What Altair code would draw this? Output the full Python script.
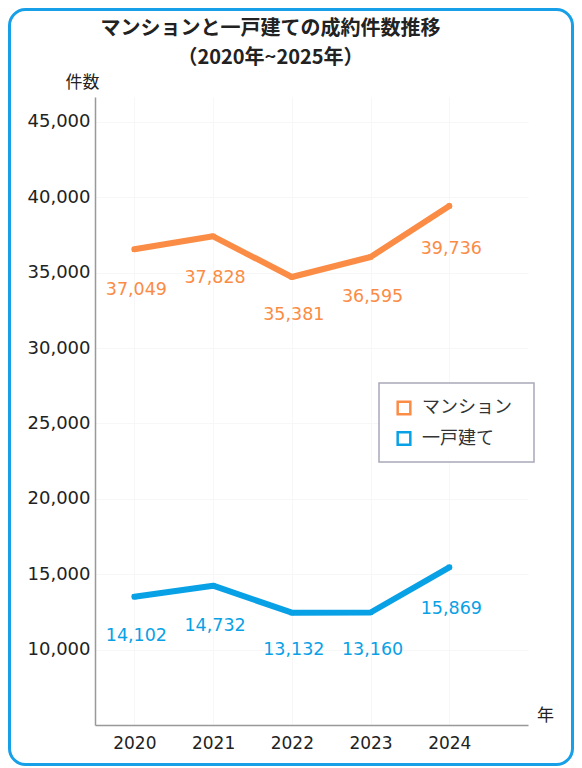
import altair as alt
import pandas as pd

years = [2020, 2021, 2022, 2023, 2024]
series_names = ["マンション", "一戸建て"]
mansion_plot = [36550, 37410, 34710, 36040, 39420]
house_plot = [13510, 14240, 12450, 12460, 15460]
mansion_label = [37049, 37828, 35381, 36595, 39736]
house_label = [14102, 14732, 13132, 13160, 15869]
colors = ["#fb8c45", "#09a1e6"]
y_ticks = [10000, 15000, 20000, 25000, 30000, 35000, 40000, 45000]
title_lines = ["マンションと一戸建ての成約件数推移", "（2020年~2025年）"]

FONT = "DejaVu Sans, Noto Sans CJK JP, sans-serif"
CJK = "Noto Sans CJK JP, sans-serif"

rows = []
for i, y in enumerate(years):
    rows.append({"year": y, "series": series_names[0], "value": mansion_plot[i], "label": mansion_label[i]})
    rows.append({"year": y, "series": series_names[1], "value": house_plot[i], "label": house_label[i]})
df = pd.DataFrame(rows)

W, H = 433, 628
PL, PT, PR, PB = 87, 89, 46, 41

xscale = alt.Scale(domain=[2019.5, 2025], nice=False, zero=False)
yscale = alt.Scale(domain=[5000, 46650], nice=False, zero=False)
cscale = alt.Scale(domain=series_names, range=colors)

base = alt.Chart(df)

x_enc = alt.X("year:Q", scale=xscale,
              axis=alt.Axis(values=years, format="d", title="年", titleAngle=0,
                            titleX=450, titleY=-10, titleAlign="center", titleBaseline="middle",
                            titleFontSize=17, titleFontWeight="normal", titleColor="#222222", titleFont=CJK,
                            labelFontSize=17, labelColor="#222222", labelPadding=10, labelFont=FONT,
                            ticks=False, domainColor="#999999", domainWidth=1.5,
                            grid=True, gridColor="#f7f7f7", gridWidth=1))
y_enc = alt.Y("value:Q", scale=yscale,
              axis=alt.Axis(values=y_ticks, format=",d", title="件数", titleAngle=0,
                            titleX=4, titleY=-15, titleAlign="right", titleBaseline="middle",
                            titleFontSize=17, titleFontWeight="normal", titleColor="#222222", titleFont=CJK,
                            labelFontSize=18, labelColor="#222222", labelPadding=5, labelFont=FONT,
                            ticks=False, domainColor="#999999", domainWidth=1.5,
                            grid=True, gridColor="#f7f7f7", gridWidth=1))

legend_box = alt.Chart(pd.DataFrame({"f": [0]})).mark_rect(
    fill="white", stroke="#a9a9b9", strokeWidth=1.5
).encode(
    x=alt.value(284), x2=alt.value(439),
    y=alt.value(286), y2=alt.value(365),
)

lines = base.mark_line(strokeWidth=6, strokeCap="round", strokeJoin="round").encode(
    x=x_enc, y=y_enc,
    color=alt.Color("series:N", scale=cscale, sort=series_names, legend=None),
    detail="series:N",
)

points = base.mark_point(shape="square", filled=False, size=12, strokeWidth=1.5, opacity=1).encode(
    x=alt.X("year:Q", scale=xscale),
    y=alt.Y("value:Q", scale=yscale),
    color=alt.Color("series:N", scale=cscale, sort=series_names,
                    legend=alt.Legend(title=None, orient="none", legendX=300, legendY=302,
                                      symbolType="square", symbolSize=160, symbolStrokeWidth=2.5,
                                      labelFontSize=18, labelColor="#333333", labelFont=CJK,
                                      labelOffset=9, padding=0, rowPadding=6.5)),
)

labels = base.mark_text(fontSize=17.5, dy=48, dx=2, baseline="middle", align="center", font=FONT).encode(
    x=alt.X("year:Q", scale=xscale),
    y=alt.Y("label:Q", scale=yscale),
    text=alt.Text("label:Q", format=",d"),
    color=alt.Color("series:N", scale=cscale, sort=series_names, legend=None),
)

frame = alt.Chart(pd.DataFrame({"f": [0]})).mark_rect(
    fill="transparent", stroke="#17a0e8", strokeWidth=3, cornerRadius=16
).encode(
    x=alt.value(-PL + 1.5), x2=alt.value(W + PR - 1.5),
    y=alt.value(-PT + 1.5), y2=alt.value(H + PB - 1.5),
)

chart = alt.layer(frame, legend_box, points, lines, labels).resolve_scale(
    color="independent"
).properties(
    width=W, height=H,
    title=alt.TitleParams(text=title_lines, fontSize=20, fontWeight="bold", color="#222222",
                          lineHeight=29, anchor="middle", dx=-41, offset=-60, font=CJK),
    autosize=alt.AutoSizeParams(type="none"),
    padding={"left": PL, "top": PT, "right": PR, "bottom": PB},
).configure(font=FONT).configure_view(stroke=None)

chart.save("out.html", embed_options={"renderer": "svg", "actions": False})
